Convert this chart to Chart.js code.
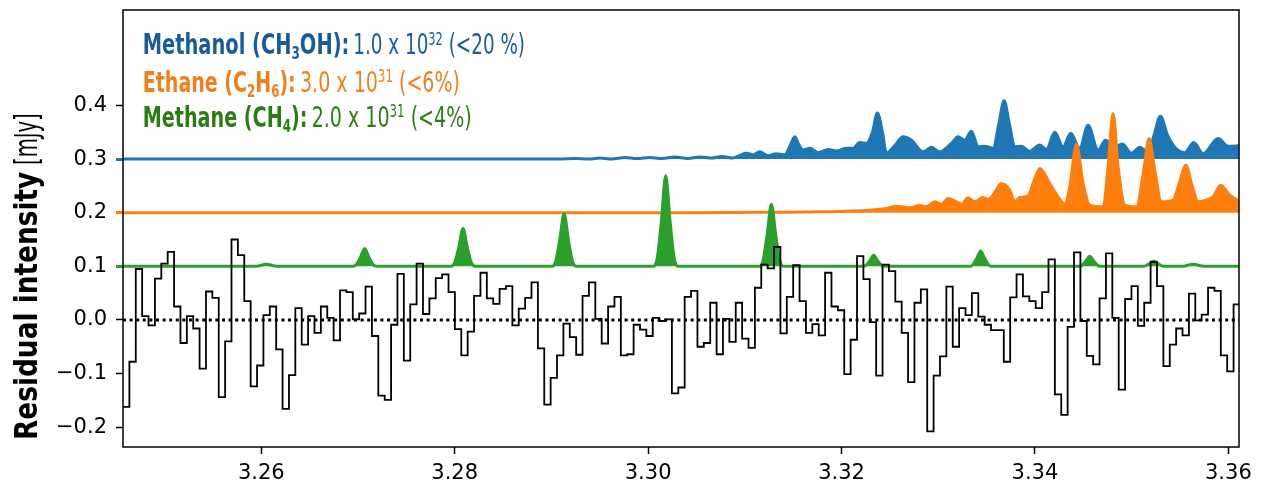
<!DOCTYPE html>
<html><head><meta charset="utf-8">
<script src="https://cdn.jsdelivr.net/npm/chart.js@4/dist/chart.umd.min.js"></script>
<style>html,body{margin:0;padding:0;background:#fff}canvas{display:block}</style>
</head><body><canvas id="c" width="1262" height="488"></canvas>
<script>
// ---------- data ----------
const xTicks = [3.26, 3.28, 3.30, 3.32, 3.34, 3.36];
const yTicks = [-0.2, -0.1, 0.0, 0.1, 0.2, 0.3, 0.4];
const xRange = [3.2457, 3.3611];
const yRange = [-0.237, 0.578];

// residual spectrum: channel start wavelengths (um) and residual flux (mJy)
const channelWl = [3.24570,3.24636,3.24702,3.24768,3.24834,3.24900,3.24966,3.25032,3.25098,3.25164,
3.25230,3.25296,3.25362,3.25428,3.25494,3.25560,3.25626,3.25692,3.25758,3.25824,
3.25890,3.25956,3.26022,3.26088,3.26154,3.26220,3.26286,3.26352,3.26418,3.26484,
3.26550,3.26616,3.26682,3.26748,3.26814,3.26880,3.26946,3.27012,3.27078,3.27144,
3.27210,3.27276,3.27342,3.27408,3.27474,3.27540,3.27606,3.27672,3.27738,3.27804,
3.27870,3.27936,3.28002,3.28068,3.28134,3.28200,3.28266,3.28332,3.28398,3.28464,
3.28530,3.28596,3.28662,3.28728,3.28794,3.28860,3.28926,3.28992,3.29058,3.29124,
3.29190,3.29256,3.29322,3.29388,3.29454,3.29520,3.29586,3.29652,3.29718,3.29784,
3.29850,3.29916,3.29982,3.30048,3.30114,3.30180,3.30246,3.30312,3.30378,3.30444,
3.30510,3.30576,3.30642,3.30708,3.30774,3.30840,3.30906,3.30972,3.31038,3.31104,
3.31170,3.31236,3.31302,3.31368,3.31434,3.31500,3.31566,3.31632,3.31698,3.31764,
3.31830,3.31896,3.31962,3.32028,3.32094,3.32160,3.32226,3.32292,3.32358,3.32424,
3.32490,3.32556,3.32622,3.32688,3.32754,3.32820,3.32886,3.32952,3.33018,3.33084,
3.33150,3.33216,3.33282,3.33348,3.33414,3.33480,3.33546,3.33612,3.33678,3.33744,
3.33810,3.33876,3.33942,3.34008,3.34074,3.34140,3.34206,3.34272,3.34338,3.34404,
3.34470,3.34536,3.34602,3.34668,3.34734,3.34800,3.34866,3.34932,3.34998,3.35064,
3.35130,3.35196,3.35262,3.35328,3.35394,3.35460,3.35526,3.35592,3.35658,3.35724,
3.35790,3.35856,3.35922,3.35988,3.36054];
const channelEnd = 3.36120;
const residual = [-0.162,-0.078,0.095,0.007,-0.010,0.077,0.105,0.127,0.025,-0.043,
0.007,-0.016,-0.091,0.053,0.041,-0.144,-0.040,0.150,0.121,0.035,
-0.124,-0.085,0.009,0.025,-0.055,-0.166,-0.103,0.022,-0.046,0.007,
-0.024,0.025,0.004,-0.038,0.055,0.052,0.001,0.012,0.062,-0.030,
-0.141,-0.149,-0.009,0.086,-0.076,0.029,0.105,0.011,0.040,0.078,
0.085,0.052,-0.017,-0.066,-0.022,0.045,0.088,0.040,0.030,0.058,
0.063,-0.010,0.021,0.041,0.070,-0.053,-0.158,-0.108,-0.066,-0.007,
-0.032,-0.065,0.045,0.070,0.002,-0.044,0.025,0.043,-0.066,-0.064,
-0.009,-0.018,-0.030,0.004,-0.002,0.001,-0.137,-0.126,0.043,0.054,
-0.050,-0.043,0.032,-0.064,0.002,-0.041,0.032,-0.035,-0.052,0.060,
0.103,0.096,0.136,-0.025,0.043,0.102,0.035,-0.024,-0.008,-0.029,
0.088,0.025,0.018,-0.101,-0.037,0.119,0.076,-0.004,-0.104,0.103,
0.091,0.034,-0.024,-0.116,0.032,0.057,-0.208,-0.104,-0.068,0.062,
-0.050,0.022,0.009,0.050,0.006,-0.009,-0.019,-0.019,-0.078,0.042,
0.085,0.044,0.035,0.022,0.052,0.113,-0.139,-0.177,-0.013,0.126,
-0.002,-0.067,-0.083,0.040,0.124,0.004,-0.130,0.039,0.063,-0.011,
0.032,0.108,0.063,-0.086,-0.046,-0.016,-0.029,0.049,-0.001,0.010,
0.060,0.054,-0.066,-0.096,0.029];

// model spectra (offset baselines 0.3 / 0.2 / 0.1)
const methanolWl = [3.24567,3.29084,3.29239,3.29396,3.29500,3.29624,3.29758,3.29882,3.30017,3.30141,
3.30275,3.30410,3.30534,3.30658,3.30761,3.30875,3.30947,3.31016,3.31085,3.31154,
3.31240,3.31327,3.31413,3.31471,3.31516,3.31561,3.31602,3.31671,3.31757,3.31861,
3.31947,3.32050,3.32119,3.32188,3.32257,3.32319,3.32371,3.32423,3.32464,3.32550,
3.32636,3.32723,3.32843,3.32929,3.33015,3.33136,3.33205,3.33274,3.33343,3.33412,
3.33481,3.33567,3.33626,3.33681,3.33736,3.33791,3.33860,3.33946,3.34050,3.34119,
3.34205,3.34291,3.34370,3.34463,3.34549,3.34653,3.34729,3.34825,3.34904,3.34997,
3.35084,3.35170,3.35232,3.35297,3.35370,3.35446,3.35549,3.35642,3.35739,3.35894,
3.35997,3.36118];
const methanolFlux = [0.300,0.300,0.301,0.300,0.302,0.300,0.303,0.301,0.303,0.301,
0.304,0.301,0.304,0.302,0.305,0.302,0.307,0.311,0.308,0.3135,
0.306,0.310,0.308,0.326,0.3415,0.326,0.317,0.320,0.312,0.318,
0.315,0.320,0.320,0.331,0.329,0.350,0.386,0.350,0.311,0.325,
0.3415,0.335,0.3135,0.322,0.3135,0.329,0.3415,0.335,0.352,0.323,
0.324,0.320,0.365,0.4086,0.365,0.323,0.324,0.3145,0.326,0.318,
0.350,0.323,0.348,0.320,0.3632,0.317,0.335,0.323,0.328,0.311,
0.322,0.3135,0.345,0.380,0.345,0.322,0.312,0.331,0.310,0.3385,
0.324,0.325];

const ethaneWl = [3.24567,3.30500,3.31300,3.31775,3.32292,3.32464,3.32567,3.32705,3.32809,3.32878,
3.32964,3.33033,3.33102,3.33188,3.33240,3.33308,3.33377,3.33464,3.33515,3.33567,
3.33653,3.33739,3.33791,3.33843,3.33929,3.33991,3.34050,3.34153,3.34239,3.34308,
3.34360,3.34429,3.34498,3.34567,3.34705,3.34756,3.34808,3.34860,3.34929,3.35049,
3.35125,3.35180,3.35239,3.35308,3.35428,3.35497,3.35559,3.35628,3.35687,3.35790,
3.35842,3.35921,3.36014,3.36100,3.36118];
const ethaneFlux = [0.200,0.200,0.2008,0.2016,0.2047,0.2078,0.2121,0.209,0.2134,0.2109,
0.2203,0.2159,0.2265,0.2203,0.2159,0.2277,0.2203,0.2283,0.2246,0.2327,
0.2545,0.2420,0.2203,0.2283,0.2314,0.260,0.2824,0.2545,0.2296,0.2159,
0.2483,0.3270,0.2545,0.2140,0.2109,0.2855,0.3850,0.2855,0.2140,0.2109,
0.2793,0.3384,0.2793,0.2203,0.2234,0.2575,0.2887,0.2482,0.2203,0.2246,
0.2296,0.2513,0.2327,0.2234,0.2230];

const methaneWl = [3.24567,3.2595,3.2605,3.2616,
3.26945,3.26983,3.27024,3.27069,3.27114,3.27155,3.27193,
3.27962,3.28000,3.28041,3.28086,3.28131,3.28172,3.28210,
3.29007,3.29045,3.29086,3.29131,3.29176,3.29217,3.29255,
3.30058,3.30096,3.30137,3.30182,3.30227,3.30268,3.30306,
3.31151,3.31189,3.31230,3.31275,3.31320,3.31361,3.31399,
3.32230,3.32290,3.32333,3.32376,3.32436,
3.33336,3.33396,3.33439,3.33482,3.33542,
3.34464,3.34524,3.34567,3.34610,3.34670,
3.35125,3.35185,3.35228,3.35271,3.35331,
3.3553,3.35632,3.3575,3.36118];
const methaneFlux = [0.1,0.1,0.104,0.1,
0.1,0.1033,0.1165,0.133,0.1165,0.1033,0.1,
0.1,0.107,0.135,0.1705,0.135,0.107,0.1,
0.1,0.1099,0.1493,0.1985,0.1493,0.1099,0.1,
0.1,0.1169,0.1844,0.2687,0.1844,0.1169,0.1,
0.1,0.1116,0.158,0.2159,0.158,0.1116,0.1,
0.1,0.110,0.1205,0.110,0.1,
0.1,0.1143,0.1286,0.1143,0.1,
0.1,0.1094,0.1187,0.1094,0.1,
0.1,0.105,0.110,0.105,0.1,
0.1,0.104,0.1,0.1];

const baselines = {methanol: 0.3, ethane: 0.2, methane: 0.1};

// ---------- styling ----------
const C_MEOH = '#1f77b4', C_ETH = '#ff7f0e', C_CH4 = '#2ca02c';
const T_MEOH = '#1a5b9c', T_ETH = '#f0801c', T_CH4 = '#2b7c12';
const TICK_FONT = {family: '"DejaVu Sans", sans-serif', size: 21};
const COND = '"Liberation Sans Narrow", "DejaVu Sans Condensed", "Liberation Sans", Arial, sans-serif';

const pts = (xs, ys) => xs.map((x, i) => ({x, y: ys[i]}));
const histPts = channelWl.map((x, i) => ({x, y: residual[i]}))
  .concat([{x: channelEnd, y: residual[residual.length - 1]}]);

function drawGroup(ctx, segs, x, y, size, w) {
  const fontFor = s => `${s.b ? 'bold ' : ''}${(s.sub || s.sup) ? Math.round(size * 0.62) : size}px ${COND}`;
  const ws = segs.map(s => { ctx.font = fontFor(s); return ctx.measureText(s.t).width; });
  const total = ws.reduce((a, b) => a + b, 0);
  ctx.save();
  ctx.translate(x, y);
  ctx.scale(w / total, 1);
  ctx.textAlign = 'left';
  ctx.textBaseline = 'alphabetic';
  let cx = 0;
  segs.forEach((s, i) => {
    ctx.font = fontFor(s);
    ctx.fillStyle = s.c;
    const dy = s.sub ? size * 0.17 : (s.sup ? -size * 0.33 : 0);
    ctx.fillText(s.t, cx, dy);
    cx += ws[i];
  });
  ctx.restore();
}

const decor = {
  id: 'decor',
  afterDatasetsDraw(chart) {
    const ctx = chart.ctx, a = chart.chartArea;
    ctx.save();
    ctx.strokeStyle = '#000';
    ctx.lineWidth = 1.5;
    ctx.strokeRect(a.left, a.top, a.right - a.left, a.bottom - a.top);
    ctx.restore();
  },
  afterDraw(chart) {
    const ctx = chart.ctx;
    const L = 142.7, S = 29;
    drawGroup(ctx, [{t: 'Methanol (CH', b: 1, c: T_MEOH}, {t: '3', b: 1, sub: 1, c: T_MEOH}, {t: 'OH):', b: 1, c: T_MEOH}], L, 54.3, S, 206.6);
    drawGroup(ctx, [{t: '1.0 x 10', c: T_MEOH}, {t: '32', sup: 1, c: T_MEOH}, {t: ' (<20 %)', c: T_MEOH}], 353.3, 54.3, S, 171.7);
    drawGroup(ctx, [{t: 'Ethane (C', b: 1, c: T_ETH}, {t: '2', b: 1, sub: 1, c: T_ETH}, {t: 'H', b: 1, c: T_ETH}, {t: '6', b: 1, sub: 1, c: T_ETH}, {t: '):', b: 1, c: T_ETH}], L, 91.7, S, 153);
    drawGroup(ctx, [{t: '3.0 x 10', c: T_ETH}, {t: '31', sup: 1, c: T_ETH}, {t: ' (<6%)', c: T_ETH}], 300, 91.7, S, 160);
    drawGroup(ctx, [{t: 'Methane (CH', b: 1, c: T_CH4}, {t: '4', b: 1, sub: 1, c: T_CH4}, {t: '):', b: 1, c: T_CH4}], L, 126.7, S, 164.7);
    drawGroup(ctx, [{t: '2.0 x 10', c: T_CH4}, {t: '31', sup: 1, c: T_CH4}, {t: ' (<4%)', c: T_CH4}], 311.7, 126.7, S, 160);
    ctx.save();
    ctx.translate(37.3, 440);
    ctx.rotate(-Math.PI / 2);
    drawGroup(ctx, [{t: 'Residual intensity', b: 1, c: '#000'}], 0, 0, 32, 268.3);
    drawGroup(ctx, [{t: '[mJy]', c: '#000'}], 275, 0, 32, 51.7);
    ctx.restore();
  }
};

const yTickColor = v => {
  const r = Math.round(v * 10) / 10;
  return r === baselines.methanol ? C_MEOH : r === baselines.ethane ? C_ETH : r === baselines.methane ? C_CH4 : '#000';
};

new Chart(document.getElementById('c'), {
  type: 'line',
  data: {
    datasets: [
      {label: 'zero', data: [{x: xRange[0], y: 0}, {x: xRange[1], y: 0}], borderColor: '#000', borderWidth: 3,
       borderDash: [3, 3.6], pointRadius: 0, fill: false, order: 0},
      {label: 'residual', data: histPts, stepped: true, borderColor: '#000', borderWidth: 1.8,
       pointRadius: 0, fill: false, order: 1},
      {label: 'Methane', data: pts(methaneWl, methaneFlux), cubicInterpolationMode: 'monotone',
       borderColor: C_CH4, backgroundColor: C_CH4, borderWidth: 3, pointRadius: 0,
       fill: {value: baselines.methane}, order: 2},
      {label: 'Ethane', data: pts(ethaneWl, ethaneFlux), cubicInterpolationMode: 'monotone',
       borderColor: C_ETH, backgroundColor: C_ETH, borderWidth: 3, pointRadius: 0,
       fill: {value: baselines.ethane}, order: 3},
      {label: 'Methanol', data: pts(methanolWl, methanolFlux), cubicInterpolationMode: 'monotone',
       borderColor: C_MEOH, backgroundColor: C_MEOH, borderWidth: 3, pointRadius: 0,
       fill: {value: baselines.methanol}, order: 4}
    ]
  },
  options: {
    responsive: false,
    animation: false,
    devicePixelRatio: 1,
    layout: {padding: {top: 10, right: 23, left: 0, bottom: 0}},
    plugins: {legend: {display: false}, tooltip: {enabled: false}},
    elements: {line: {borderJoinStyle: 'miter'}},
    scales: {
      x: {
        type: 'linear', min: xRange[0], max: xRange[1],
        afterBuildTicks: s => { s.ticks = xTicks.map(v => ({value: v})); },
        afterFit: s => { s.height = 41; s.paddingLeft = 0; s.paddingRight = 0; },
        ticks: {font: TICK_FONT, color: '#000', padding: 7, autoSkip: false, maxRotation: 0,
                callback: v => Number(v).toFixed(2)},
        grid: {drawOnChartArea: false, drawTicks: true, tickLength: 7, tickColor: '#000', tickWidth: 1.5},
        border: {display: false}
      },
      y: {
        type: 'linear', min: yRange[0], max: yRange[1],
        afterBuildTicks: s => { s.ticks = yTicks.map(v => ({value: v})); },
        afterFit: s => { s.width = 123; s.paddingTop = 0; s.paddingBottom = 0; },
        ticks: {font: TICK_FONT, color: '#000', padding: 9,
                callback: v => (v < -1e-9 ? '\u2212' : '') + Math.abs(v).toFixed(1)},
        grid: {drawOnChartArea: false, drawTicks: true, tickLength: 7,
               tickColor: c => yTickColor(c.tick ? c.tick.value : 0),
               tickWidth: c => (yTickColor(c.tick ? c.tick.value : 0) === '#000' ? 1.5 : 3)},
        border: {display: false}
      }
    }
  },
  plugins: [decor]
});
</script>
</body></html>
